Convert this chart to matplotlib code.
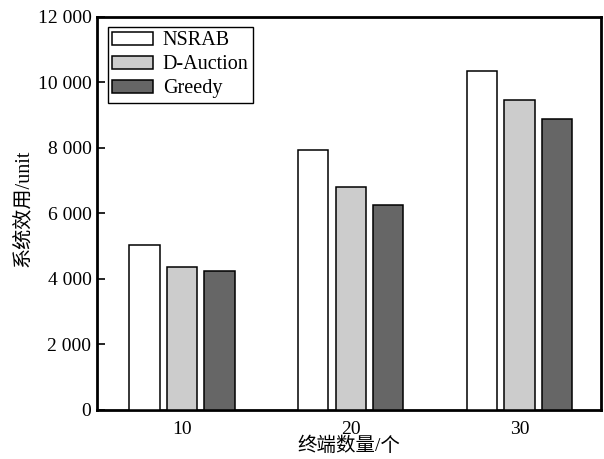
import numpy as np
import matplotlib
matplotlib.use("Agg")
import matplotlib.pyplot as plt
from matplotlib.ticker import FuncFormatter

plt.rcParams['font.family'] = ['Liberation Serif', 'Noto Sans CJK SC']

# data
terminals = ["10", "20", "30"]
series = ["NSRAB", "D-Auction", "Greedy"]
nsrab = [5050, 7930, 10350]
d_auction = [4370, 6800, 9480]
greedy = [4250, 6250, 8880]

colors = ["white", "#cccccc", "#666666"]

fig = plt.figure(figsize=(6.04, 4.59), dpi=100)
ax = fig.add_axes([0.1606, 0.1068, 0.8344, 0.8562])

x = np.arange(len(terminals))
width = 0.18
step = 0.222
for i, (name, vals) in enumerate(zip(series, [nsrab, d_auction, greedy])):
    ax.bar(x + (i - 1) * step, vals, width=width, color=colors[i],
           edgecolor="black", linewidth=1.1, label=name, zorder=3)

ax.set_xlim(-0.504, 2.483)
ax.set_ylim(0, 12000)
ax.set_yticks(range(0, 12001, 2000))
ax.yaxis.set_major_formatter(
    FuncFormatter(lambda v, _: f"{int(v):,}".replace(",", " ")))
ax.set_xticks(x)
ax.set_xticklabels(terminals)

ax.tick_params(axis="y", direction="in", length=6, width=1.2, labelsize=14, pad=4)
ax.tick_params(axis="x", length=0, labelsize=14, pad=8)
for spine in ax.spines.values():
    spine.set_linewidth(2)

ax.set_ylabel("系统效用/unit", fontsize=14.5, labelpad=0)
ax.yaxis.set_label_coords(-0.127, 0.514)
ax.set_xlabel("终端数量/个", fontsize=14, labelpad=-1)

leg = ax.legend(loc="upper left", bbox_to_anchor=(11 / 504, 1 - 10 / 393),
                borderaxespad=0, fancybox=False, edgecolor="black",
                framealpha=1, fontsize=14.5, handlelength=2.0, handleheight=0.6,
                labelspacing=0.25, handletextpad=0.5, borderpad=0.22)
leg.get_frame().set_linewidth(1.0)

fig.savefig("out.png", dpi=100)
